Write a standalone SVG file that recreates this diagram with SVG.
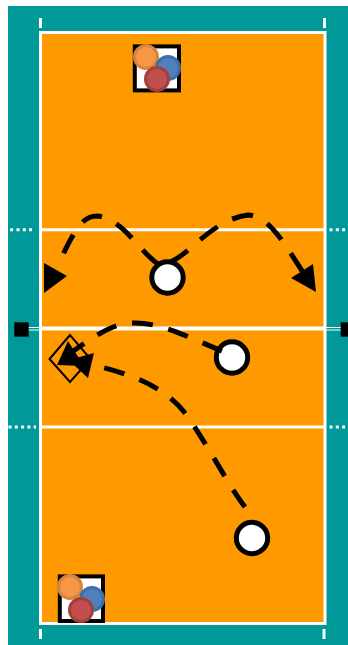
<svg xmlns="http://www.w3.org/2000/svg" width="348" height="645" viewBox="0 0 348 645">
<defs><filter id="soft" x="-10%" y="-10%" width="120%" height="120%"><feGaussianBlur stdDeviation="0.5"/></filter></defs>
<style>
.line{stroke:#fff;stroke-width:3;fill:none}
.dots{stroke:#fff;stroke-width:3;stroke-dasharray:3 3.300;fill:none}
.tick{stroke:#fff;stroke-width:3}
.post{fill:#000}
.dash{fill:none;stroke:#000;stroke-width:5;stroke-dasharray:21 16}
.head{fill:#000}
.player{fill:#fff;stroke:#000;stroke-width:5}
.box{fill:#fff;stroke:#000;stroke-width:4}
.o{fill:#f79646;stroke:#d9843c;stroke-width:3}
.b{fill:#4f81bd;stroke:#3f6ea6;stroke-width:3}
.r{fill:#c0504d;stroke:#a23f3c;stroke-width:3}
</style>
<g id="court">
<rect x="8" y="6" width="340" height="639" fill="#009999"/>
<rect x="40.500" y="32.500" width="284.500" height="591" fill="#ff9900" stroke="#fff" stroke-width="3"/>
<path class="line" d="M42 229.800H324M42 427H324"/>
<path d="M40 328.500H324" stroke="#fff" stroke-width="4" fill="none"/>
<path d="M28 327.500H40M28 330H40M326 327.500H342M326 330H342" stroke="#fff" stroke-width="1" fill="none"/>
<path class="dots" d="M10.200 229.800H34M329.500 229.800H346M8.500 427H36M329.500 427H346"/>
<path class="tick" d="M40.500 18V28M324.500 18V28M40.500 629V639M324 629V639"/>
<rect class="post" x="14.300" y="322.300" width="14.400" height="14.400"/>
<rect class="post" x="340.700" y="322.300" width="7.300" height="14.400"/>
</g>
<g id="stack-top" filter="url(#soft)">
<rect class="box" x="134.800" y="46.400" width="44.200" height="44"/>
<circle class="o" cx="146" cy="57" r="11.500"/>
<circle class="b" cx="168" cy="68" r="11.500"/>
<circle class="r" cx="157" cy="79" r="11.500"/>
</g>
<g id="stack-bottom" filter="url(#soft)">
<rect class="box" x="59.800" y="576.400" width="43.200" height="44.600"/>
<circle class="o" cx="70" cy="587" r="11.500"/>
<circle class="b" cx="92" cy="599" r="11.500"/>
<circle class="r" cx="81" cy="610" r="11.500"/>
</g>
<g id="cone">
<polygon points="70,335 49.500,359 70,382 90.500,359" fill="none" stroke="#000" stroke-width="2"/>
</g>
<g id="player-1"><circle class="player" cx="167.500" cy="277.500" r="15.700"/></g>
<g id="player-2"><circle class="player" cx="232" cy="357.500" r="15.700"/></g>
<g id="player-3"><circle class="player" cx="252" cy="538" r="15.700"/></g>
<g id="connectors">
<path class="dash" d="M158 264C140 252 122 218 97 216C84 216 76 226 60 261"/>
<path class="dash" style="stroke-dasharray:21.500 16.400" d="M170 262C188 256 213 219 248 215C270 216 285 245 306 277"/>
<path class="dash" d="M222 351C190 338 160 322 133 323C115 323 100 332 72 352"/>
<path class="dash" d="M245 507C228 485 205 440 185 413C165 388 135 373 78 362"/>
<polygon class="head" points="44,263 67,276 44,293"/>
<polygon class="head" points="316,292 313,264 291,278"/>
<polygon class="head" points="57,365 68,341 84,366"/>
<polygon class="head" points="94,353 88,378 68.600,360"/>
</g>
</svg>
